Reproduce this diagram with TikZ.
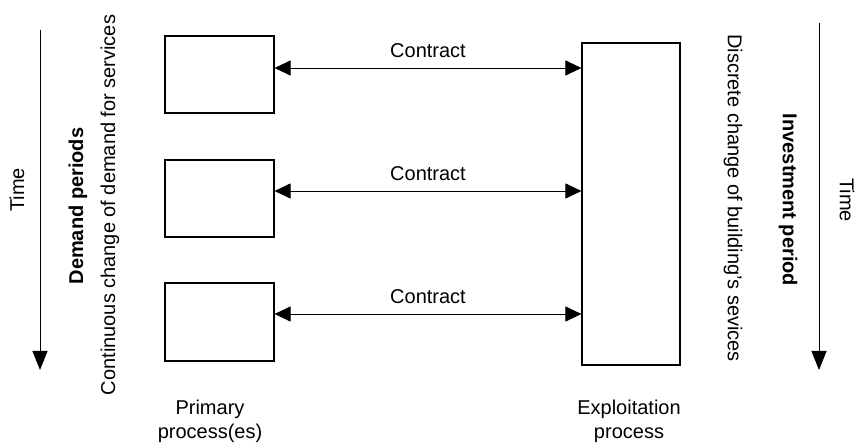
\documentclass[tikz,border=0pt]{standalone}
\usepackage{fontspec}
\setmainfont{Liberation Sans}
\usetikzlibrary{arrows.meta}
\begin{document}
\begin{tikzpicture}[x=1pt,y=-1pt,
  every node/.style={font=\fontsize{20}{24}\selectfont},
  procbox/.style={draw, line width=1.1pt, inner sep=0pt},
  link/.style={line width=0.9pt,
    {Triangle[length=16pt,width=15pt]}-{Triangle[length=16pt,width=15pt]}},
  timeline/.style={line width=0.9pt, -{Triangle[length=19pt,width=15pt]}},
  linklabel/.style={midway, above, inner sep=10pt},
  sidetext/.style={inner sep=0pt},
  boldtext/.style={inner sep=0pt, font=\fontsize{20}{24}\selectfont\bfseries}]
\useasboundingbox (0,0) rectangle (855,446);

% primary processes
\node[procbox, minimum width=109pt, minimum height=77pt] (p1) at (219.5,74.5) {};
\node[procbox, minimum width=109pt, minimum height=77pt] (p2) at (219.5,198.5) {};
\node[procbox, minimum width=109pt, minimum height=78pt] (p3) at (219.5,322) {};

% exploitation process
\node[procbox, minimum width=98pt, minimum height=322pt] (ex) at (631,204) {};

% contracts
\draw[link] ([yshift=6.5pt]p1.east) -- ([yshift=6.5pt]p1.east -| ex.west)
  node[linklabel] (c1) {Contract};
\draw[link] ([yshift=7.5pt]p2.east) -- ([yshift=7.5pt]p2.east -| ex.west)
  node[linklabel] (c2) {Contract};
\draw[link] ([yshift=8pt]p3.east) -- ([yshift=8pt]p3.east -| ex.west)
  node[linklabel] (c3) {Contract};

% left time axis
\coordinate (lt0) at (40,30);
\coordinate (lt1) at (40,370);
\draw[timeline] (lt0) -- (lt1);
\node[sidetext, rotate=90] (ltime) at (17,190) {Time};
\node[boldtext, rotate=90] (dp) at (78,206) {Demand periods};
\node[sidetext, rotate=90] (cc) at (110,205) {Continuous change of demand for services};

% right time axis
\coordinate (rt0) at (819,23);
\coordinate (rt1) at (819,370);
\draw[timeline] (rt0) -- (rt1);
\node[sidetext, rotate=-90] (rtime) at (847,200) {Time};
\node[boldtext, rotate=-90] (ip) at (788,200) {Investment period};
\node[sidetext, rotate=-90] (dc) at (733,198) {Discrete change of building’s sevices};

% captions
\node[align=center, inner sep=0pt] (pl) at (210,421) {Primary\\process(es)};
\node[align=center, inner sep=0pt] (el) at (629,421) {Exploitation\\process};
\end{tikzpicture}
\end{document}
